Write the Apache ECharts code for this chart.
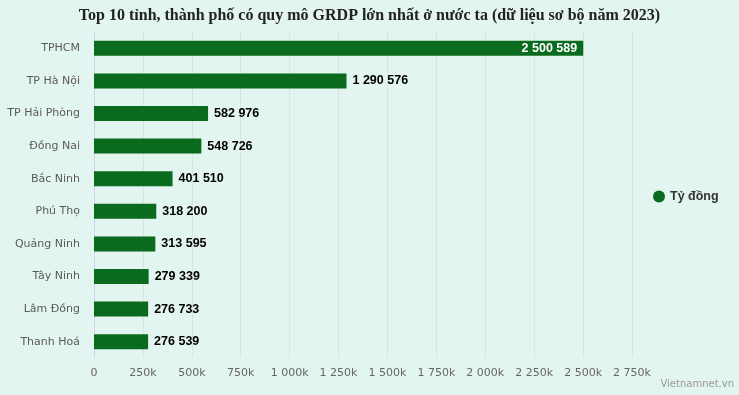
<!DOCTYPE html>
<html><head><meta charset="utf-8">
<script src="https://cdn.jsdelivr.net/npm/echarts@6/dist/echarts.min.js"></script>
<style>html,body{margin:0;padding:0;background:#e3f5f0;}#c{width:739px;height:395px;}</style>
</head><body><div id="c"></div>
<script>
const categories = ["TPHCM","TP Hà Nội","TP Hải Phòng","Đồng Nai","Bắc Ninh","Phú Thọ","Quảng Ninh","Tây Ninh","Lâm Đồng","Thanh Hoá"];
const values = [2500589,1290576,582976,548726,401510,318200,313595,279339,276733,276539];
const seriesName = "Tỷ đồng";
const titleText = "Top 10 tỉnh, thành phố có quy mô GRDP lớn nhất ở nước ta (dữ liệu sơ bộ năm 2023)";
const sourceText = "Vietnamnet.vn";

function fmt(n){ return String(n).replace(/\B(?=(\d{3})+(?!\d))/g, " "); }
function fmtK(v){ return v === 0 ? "0" : fmt(v/1000) + "k"; }

const chart = echarts.init(document.getElementById('c'));
chart.setOption({
  backgroundColor: '#e3f5f0',
  animation: false,
  title: [{
    text: titleText, left: 'center', top: 3,
    textStyle: { fontFamily: 'Liberation Serif', fontWeight: 'bold', fontSize: 16, color: '#222' }
  },{
    text: sourceText, right: 0, bottom: 1,
    textStyle: { fontFamily: 'DejaVu Sans', fontWeight: 'normal', fontSize: 10, color: '#999' }
  }],
  legend: {
    data: [seriesName], orient: 'vertical', left: 648, top: 185,
    icon: 'circle', itemWidth: 12, itemHeight: 12, itemGap: 4,
    textStyle: { fontFamily: 'Liberation Sans', fontWeight: 'bold', fontSize: 12.5, color: '#333' }
  },
  grid: { left: 94, right: 107, top: 32, bottom: 37, containLabel: false },
  xAxis: {
    type: 'value', min: 0, max: 2750000, interval: 250000,
    axisLine: { show: false }, axisTick: { show: false },
    splitLine: { show: true, lineStyle: { color: '#d8e3e2', width: 1 } },
    axisLabel: { formatter: fmtK, fontFamily: 'DejaVu Sans', fontSize: 11, color: '#666', margin: 10 }
  },
  yAxis: {
    type: 'category', data: categories, inverse: true,
    axisLine: { show: true, lineStyle: { color: '#ccd6eb' } }, axisTick: { show: false },
    axisLabel: { fontFamily: 'DejaVu Sans', fontSize: 11, color: '#5a5a5a', margin: 14 }
  },
  series: [{
    name: seriesName, type: 'bar', data: values.map((v, i) => i === 0 ? {
      value: v,
      label: { position: 'insideRight', color: '#fff', distance: 6 }
    } : v),
    barWidth: 15,
    itemStyle: { color: '#0a6a1d' },
    label: {
      show: true, position: 'right', distance: 6,
      formatter: p => fmt(p.value),
      fontFamily: 'Liberation Sans', fontWeight: 'bold', fontSize: 12.5, color: '#000'
    }
  }]
});
</script>
</body></html>
